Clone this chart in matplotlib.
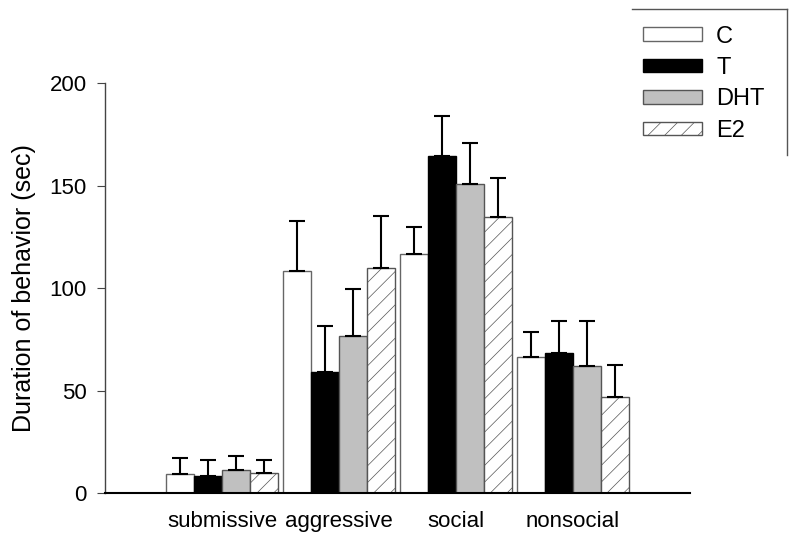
import numpy as np
import matplotlib.pyplot as plt
from matplotlib.patches import Patch
from matplotlib.lines import Line2D

plt.rcParams['font.family'] = ['Liberation Sans', 'DejaVu Sans']
plt.rcParams['hatch.linewidth'] = 0.5

# Data
behaviors = ['submissive', 'aggressive', 'social', 'nonsocial']
groups = ['C', 'T', 'DHT', 'E2']
means = {
    'C':   [9.3, 108.3, 116.7, 66.5],
    'T':   [8.3, 59.2, 164.4, 68.1],
    'DHT': [11.2, 76.7, 150.6, 62.1],
    'E2':  [9.7, 110.0, 134.5, 46.7],
}
errors = {
    'C':   [7.7, 24.5, 13.3, 12.2],
    'T':   [7.7, 22.4, 19.6, 15.8],
    'DHT': [7.0, 22.8, 20.1, 21.8],
    'E2':  [6.3, 25.0, 19.3, 15.7],
}

# Bar styles
styles = {
    'C':   dict(facecolor='white', edgecolor='#666666', hatch=None),
    'T':   dict(facecolor='black', edgecolor='black', hatch=None),
    'DHT': dict(facecolor='#c0c0c0', edgecolor='#555555', hatch=None),
    'E2':  dict(facecolor='white', edgecolor='#555555', hatch='//'),
}

fig = plt.figure(figsize=(8, 5.39), dpi=100)
ax = fig.add_axes([0.13125, 0.0853, 0.73125, 0.7607])

x = np.arange(len(behaviors))
width = 0.24
offsets = np.array([-1.5, -0.5, 0.5, 1.5]) * width

for g, off in zip(groups, offsets):
    st = styles[g]
    ax.bar(x + off, means[g], width, color=st['facecolor'],
           edgecolor=st['edgecolor'], linewidth=1.0, hatch=st['hatch'])
    ax.errorbar(x + off, means[g], yerr=[np.zeros(4), errors[g]], fmt='none',
                ecolor='black', elinewidth=1.5, capsize=6, capthick=1.5)

ax.set_xlim(-1, 4)
ax.set_ylim(0, 200)
ax.set_yticks([0, 50, 100, 150, 200])
ax.set_xticks(x)
ax.set_xticklabels(behaviors)
ax.tick_params(axis='x', length=0, labelsize=16, pad=13)
ax.tick_params(axis='y', direction='out', length=6, labelsize=16, pad=7,
               color='#444444')
ax.set_ylabel('Duration of behavior (sec)', fontsize=18, labelpad=10)

for s in ['top', 'right']:
    ax.spines[s].set_visible(False)
ax.spines['left'].set_color('#444444')
ax.spines['left'].set_linewidth(1.0)
ax.spines['bottom'].set_linewidth(1.5)

# Legend
handles = [Patch(facecolor=styles[g]['facecolor'], edgecolor=styles[g]['edgecolor'],
                 hatch=styles[g]['hatch'], linewidth=1.0) for g in groups]
leg = fig.legend(handles, groups, loc='upper left', bbox_to_anchor=(0.777, 0.992),
                 frameon=False, fontsize=17, handlelength=2.5, handleheight=0.5,
                 labelspacing=0.4, handletextpad=0.6)

# Partial legend frame (top and right lines)
fig.add_artist(Line2D([632 / 800, 787 / 800], [1 - 9 / 539, 1 - 9 / 539],
                      color='#555555', linewidth=1.0, transform=fig.transFigure))
fig.add_artist(Line2D([787 / 800, 787 / 800], [1 - 9 / 539, 1 - 155 / 539],
                      color='#555555', linewidth=1.0, transform=fig.transFigure))

fig.savefig('out.png', dpi=100)
